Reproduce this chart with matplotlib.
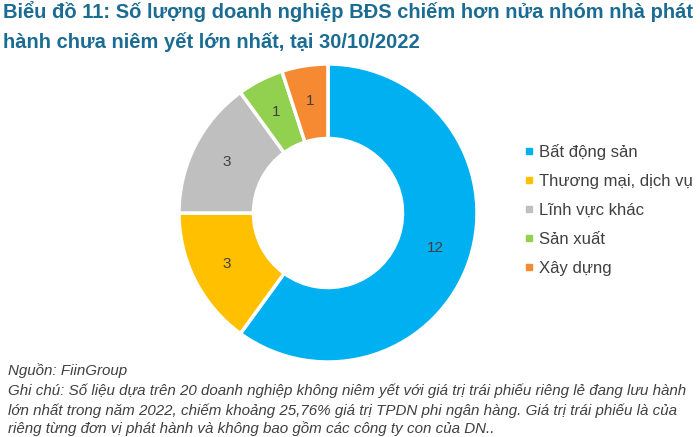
import numpy as np
import matplotlib.pyplot as plt
from matplotlib.lines import Line2D

plt.rcParams['font.family'] = ['Liberation Sans', 'DejaVu Sans']

categories = ['Bất động sản', 'Thương mại, dịch vụ', 'Lĩnh vực khác', 'Sản xuất', 'Xây dựng']
values = [12, 3, 3, 1, 1]
colors = ['#00B0F0', '#FFC000', '#BFBFBF', '#92D050', '#F58A32']

title = 'Biểu đồ 11: Số lượng doanh nghiệp BĐS chiếm hơn nửa nhóm nhà phát\nhành chưa niêm yết lớn nhất, tại 30/10/2022'
notes = ['Nguồn: FiinGroup',
         'Ghi chú: Số liệu dựa trên 20 doanh nghiệp không niêm yết với giá trị trái phiếu riêng lẻ đang lưu hành',
         'lớn nhất trong năm 2022, chiếm khoảng 25,76% giá trị TPDN phi ngân hàng. Giá trị trái phiếu là của',
         'riêng từng đơn vị phát hành và không bao gồm các công ty con của DN..']

W, H = 700, 437
fig = plt.figure(figsize=(7, 4.37), dpi=100)

cx, cy, r = 328, 213, 152
ax = fig.add_axes([(cx - r) / W, (H - cy - r) / H, 2 * r / W, 2 * r / H])
wedges, texts = ax.pie(values, colors=colors, startangle=90, counterclock=False,
                       radius=1, labels=[str(v) for v in values], labeldistance=0.76,
                       wedgeprops=dict(width=0.5, edgecolor='white', linewidth=2.5),
                       textprops=dict(fontsize=11, color='#404040'))
for t in texts:
    t.set_horizontalalignment('center')
    t.set_verticalalignment('center')
ax.set_xlim(-1.02, 1.02)
ax.set_ylim(-1.02, 1.02)
ax.axis('off')

fig.text(0.004, 0.997, title, fontsize=14.5, fontweight='bold', color='#1A6C93',
         va='top', ha='left', linespacing=1.62)

handles = [Line2D([], [], marker='s', linestyle='', markersize=5, color=c) for c in colors]
fig.legend(handles, categories, loc='center left', bbox_to_anchor=(509 / W, 1 - 210 / H),
           frameon=False, fontsize=12, labelcolor='#404040', handlelength=0.6,
           handletextpad=0.3, labelspacing=0.83)

ys = [371, 391, 411, 429]
for y, s in zip(ys, notes):
    fig.text(8 / W, 1 - y / H, s, fontsize=10.9, style='italic', color='#404040', va='center', ha='left')

fig.savefig('out.png', dpi=100)
